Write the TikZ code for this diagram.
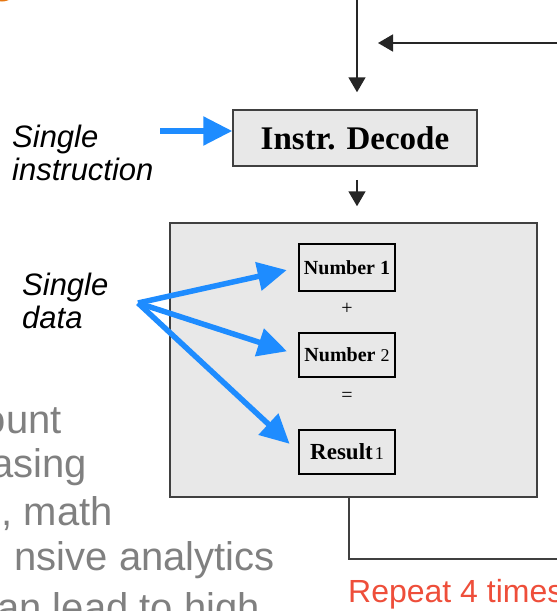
\documentclass[tikz,border=0pt]{standalone}
\usepackage{fontspec}
\setmainfont{Liberation Serif}
\setsansfont{Liberation Sans}
\usepackage{xcolor}
\usetikzlibrary{arrows.meta,calc,positioning}
\definecolor{boxgray}{RGB}{232,232,232}
\definecolor{arrblue}{RGB}{30,140,255}
\definecolor{reptred}{RGB}{238,78,58}
\definecolor{txtgray}{RGB}{128,128,128}
\definecolor{orng}{RGB}{230,120,20}

\begin{document}
\begin{tikzpicture}[x=1pt,y=-1pt,
  numbox/.style={draw=black,fill=boxgray,line width=1.2pt,minimum width=96pt,inner sep=0pt},
  bluearr/.style={-{Triangle[width=28pt,length=29pt]},color=arrblue,line width=5.5pt},
  blkarr/.style={-{Triangle[width=17pt,length=15pt]},line width=1.7pt,color=black!85},
  lbl/.style={font=\sffamily\itshape\fontsize{31}{33}\selectfont,align=left,inner sep=0pt,anchor=base west},
  gtxt/.style={font=\sffamily\fontsize{40}{46}\selectfont,color=txtgray,inner sep=0pt,anchor=base east}]
\useasboundingbox (0,0) rectangle (557,611); \clip (0,0) rectangle (557,611);
\fill[orng] (2,-14) circle (15.5pt);
% decode and the processing box
\node[draw=black!75,fill=boxgray,line width=1.5pt,minimum width=244pt,minimum height=56pt,inner sep=0pt,font=\bfseries\fontsize{33}{33}\selectfont] (dec) at (355,138) {Instr. Decode};
\node[draw=black!75,fill=boxgray,line width=1.5pt,minimum width=367pt,minimum height=274pt,inner sep=0pt] (alu) at (353.5,360) {};
\node[numbox,minimum height=47pt,font=\bfseries\fontsize{20}{20}\selectfont] (n1) at (347,267.5) {Number 1};
\node[font=\fontsize{20}{20}\selectfont] (plus) at (347,309) {+};
\node[numbox,minimum height=44pt,font=\bfseries\fontsize{20}{20}\selectfont] (n2) at (347,355) {Number {\mdseries\fontsize{18}{18}\selectfont 2}};
\node[font=\fontsize{20}{20}\selectfont] (eq) at (347,397) {=};
\node[numbox,minimum height=44pt,font=\bfseries\fontsize{23}{23}\selectfont] (res) at (347,452) {Result\hspace{2pt}{\mdseries\fontsize{18}{18}\selectfont 1}};
% loop
\coordinate (top) at (357,0); \coordinate (fb) at (565,43); \coordinate (fbtip) at (378,43); \coordinate (rep) at (565,559);
\draw[blkarr,shorten >=17pt] (top) -- (top |- dec.north);
\draw[blkarr] (fb) -- (fbtip);
\draw[blkarr,shorten <=13pt,shorten >=16pt] ([xshift=2pt]dec.south) -- ([xshift=2pt]dec.south |- alu.north);
\draw[line width=1.5pt,color=black!75] ([xshift=-4.5pt]alu.south) |- (rep);
% blue pointers
\coordinate (si) at (160,131); \coordinate (sd) at (138,303);
\draw[bluearr] (si) -- (si -| dec.west);
\draw[bluearr,shorten >=12pt] (sd) -- (n1.west); \draw[bluearr,shorten >=12pt] (sd) -- (n2.west); \draw[bluearr,shorten >=12pt] (sd) -- (res.west);
% labels
\node[lbl] (sinst) at (12,180) {Single\\instruction};
\node[lbl] (sdata) at (22,328) {Single\\data};
\node[font=\sffamily\fontsize{32}{32}\selectfont,color=reptred,anchor=base west,inner sep=0pt] (rpt) at (348,602) {Repeat 4 times};
\node[gtxt] (g1) at (62,433) {ount};
\node[gtxt] (g2) at (87,477) {asing};
\node[gtxt] (g3) at (113,525) {, math};
\node[gtxt] (g4) at (275,570) {nsive analytics};
\node[gtxt] (g5) at (260,621) {an lead to high};
\end{tikzpicture}
\end{document}
